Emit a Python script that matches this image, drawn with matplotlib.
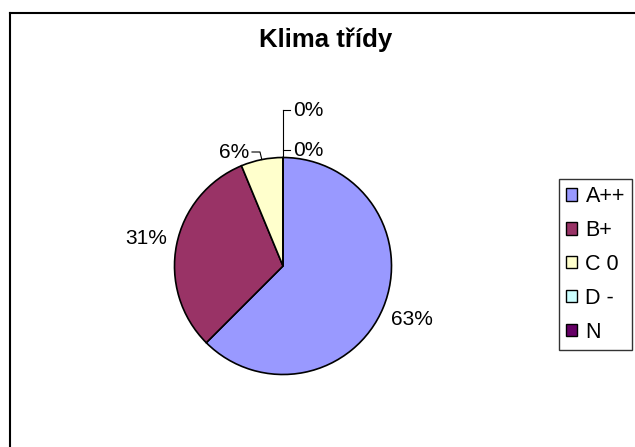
import numpy as np
import matplotlib
matplotlib.use("Agg")
import matplotlib.pyplot as plt
from matplotlib.patches import Patch
from matplotlib.lines import Line2D

plt.rcParams['font.family'] = ['Liberation Sans', 'DejaVu Sans']

title = "Klima třídy"
categories = ["A++", "B+", "C 0", "D -", "N"]
counts = [10, 5, 1, 0, 0]
colors = ["#9999FF", "#993366", "#FFFFCC", "#CCFFFF", "#660066"]

W, H = 635, 447
fig = plt.figure(figsize=(W / 100, H / 100), dpi=100)

# pie geometry in pixels
cx, cy, r = 283, 266, 108.5
ax = fig.add_axes([(cx - r) / W, (H - cy - r) / H, 2 * r / W, 2 * r / H])
wedges, _ = ax.pie(counts, colors=colors, startangle=90, counterclock=False,
                   radius=1, wedgeprops=dict(edgecolor="black", linewidth=1.2))
ax.set_xlim(-1, 1)
ax.set_ylim(-1, 1)
ax.axis("off")

def px(x, y):
    return ((x - cx) / r, (cy - y) / r)

total = sum(counts)
pcts = [int(100 * c / total + 0.5) for c in counts]
fs = 15

# large slices: labels at mid-angle outside
for i in (0, 1):
    w = wedges[i]
    mid = np.deg2rad((w.theta1 + w.theta2) / 2)
    d = 1.29
    ax.text(d * np.cos(mid), d * np.sin(mid), f"{pcts[i]}%", ha="center", va="center",
            fontsize=fs, clip_on=False)

# 6% slice with leader line
w = wedges[2]
mid = np.deg2rad((w.theta1 + w.theta2) / 2)
ex, ey = np.cos(mid), np.sin(mid)
p1 = px(252, 152)
p2 = px(260, 152)
ax.plot([p1[0], p2[0], ex], [p1[1], p2[1], ey], color="black", lw=0.8, clip_on=False)
ax.text(*px(249, 152), f"{pcts[2]}%", ha="right", va="center", fontsize=fs, clip_on=False)

# zero slices with stacked leader lines at the top
top = px(283, 158)
upper = px(283, 110)
ax.plot([top[0], upper[0]], [top[1], upper[1]], color="black", lw=0.8, clip_on=False)
for yy, i in ((150, 3), (110, 4)):
    a = px(283, yy)
    b = px(290, yy)
    ax.plot([a[0], b[0]], [a[1], b[1]], color="black", lw=0.8, clip_on=False)
    ax.text(*px(293, yy), f"{pcts[i]}%", ha="left", va="center", fontsize=fs, clip_on=False)

# title
fig.text(326 / W, 1 - 40 / H, title, ha="center", va="center", fontsize=18.5,
         fontweight="bold")

# legend
handles = [Patch(facecolor=c, edgecolor="black", linewidth=1) for c in colors]
leg = fig.legend(handles, categories, loc="upper left",
                 bbox_to_anchor=(559 / W, 1 - 179 / H), borderaxespad=0,
                 fontsize=15.5, frameon=True, fancybox=False, edgecolor="black",
                 handlelength=0.5, handleheight=0.5, handletextpad=0.4,
                 labelspacing=0.6, borderpad=0.33)
leg.get_frame().set_linewidth(1.0)

# outer chart frame (only left and top visible)
fig.add_artist(Line2D([10 / W, 10 / W], [0, 1 - 13 / H], transform=fig.transFigure,
                      color="black", lw=1.5))
fig.add_artist(Line2D([10 / W, 1], [1 - 13 / H, 1 - 13 / H], transform=fig.transFigure,
                      color="black", lw=1.5))

fig.savefig("out.png", dpi=100)
